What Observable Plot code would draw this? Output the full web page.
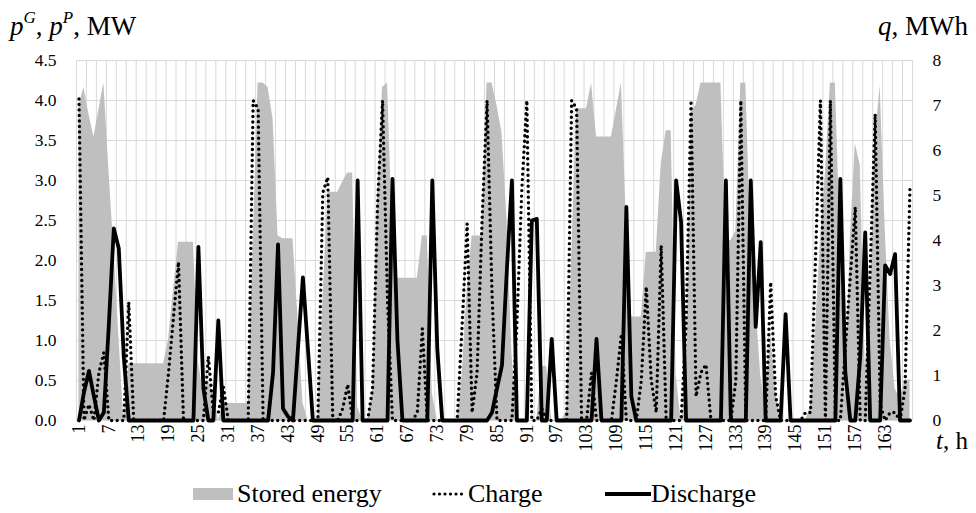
<!DOCTYPE html>
<html><head><meta charset="utf-8">
<script src="https://cdn.jsdelivr.net/npm/d3@7"></script>
<script src="https://cdn.jsdelivr.net/npm/@observablehq/plot@0.6"></script>
<style>
body{margin:0;background:#fff;font-family:"Liberation Serif","Times New Roman",serif;}
#wrap{position:relative;width:976px;height:513px;overflow:hidden;}
#legend{position:absolute;left:0;top:479px;width:976px;height:30px;font-size:26px;color:#000;}
#legend > div{position:absolute;top:0;height:30px;display:flex;align-items:center;white-space:nowrap;}
</style></head><body><div id="wrap"><div id="chart"></div>
<div id="legend">
 <div style="left:193px"><svg width="40" height="12"><rect width="40" height="12" fill="#bfbfbf"/></svg></div>
 <div style="left:237px">Stored energy</div>
 <div style="left:432px"><svg width="34" height="6"><line x1="2" y1="3" x2="32" y2="3" stroke="#000" stroke-width="3.2" stroke-dasharray="0,5.5" stroke-linecap="round"/></svg></div>
 <div style="left:468px">Charge</div>
 <div style="left:605px"><svg width="46" height="6"><line x1="0" y1="3" x2="46" y2="3" stroke="#000" stroke-width="3.8"/></svg></div>
 <div style="left:651px">Discharge</div>
</div></div>
<script>
const hours = d3.range(1, 169);
const stored = [
 7.0, 7.4, 6.8, 6.3, 6.9, 7.5, 5.6, 3.8, 1.9, 0, 1.26, 1.26,
 1.26, 1.26, 1.26, 1.26, 1.26, 1.26, 1.8, 2.9, 3.96, 3.96, 3.96, 3.96,
 1.3, 0.6, 0.9, 0.6, 0, 0.38, 0.38, 0.38, 0.38, 0.38, 0.38, 4.0,
 7.5, 7.5, 7.4, 6.7, 4.1, 4.04, 4.04, 4.04, 2.3, 0.4, 0, 0,
 0, 2.6, 5.07, 5.07, 5.07, 5.3, 5.5, 5.5, 0.3, 0, 0, 0.6,
 5.0, 7.4, 7.5, 4.2, 3.16, 3.16, 3.16, 3.16, 3.16, 4.1, 4.1, 0.6,
 0, 0, 0, 0, 0, 1.0, 2.9, 4.1, 4.1, 4.1, 7.5, 7.5,
 7.0, 6.4, 4.5, 1.5, 0, 0, 0, 0, 0, 1.2, 1.2, 0,
 0, 0, 0.2, 3.6, 6.93, 6.93, 6.93, 7.5, 6.3, 6.3, 6.3, 6.3,
 6.9, 7.5, 4.4, 2.3, 2.3, 2.3, 3.74, 3.74, 3.74, 5.7, 6.44, 6.44,
 1.0, 0, 0.5, 6.85, 7.0, 7.5, 7.5, 7.5, 7.5, 7.5, 4.0, 4.0,
 4.2, 7.5, 7.5, 4.0, 2.6, 1.0, 0.3, 1.96, 0.6, 0, 0, 0,
 0, 0, 0, 0.3, 2.0, 4.0, 5.5, 7.5, 7.5, 4.0, 0.5, 4.0,
 6.15, 5.67, 1.2, 2.5, 6.2, 7.44, 4.3, 1.8, 0.7, 0.5, 0.9, 0.9
];
const charge = [
 4.02, 0, 0.2, 0, 0.6, 0.85, 0, 0, 0, 0, 1.48, 0,
 0, 0, 0, 0, 0, 0, 0.6, 1.3, 1.98, 0, 0, 0,
 0, 0, 0.8, 0.1, 0.1, 0.43, 0, 0, 0, 0, 0, 4.0,
 3.9, 0, 0, 0, 0, 0, 0, 0, 0, 0, 0, 0,
 0, 2.85, 3.04, 0, 0, 0.15, 0.45, 0, 0, 0, 0, 0.4,
 2.7, 4.0, 1.5, 0, 0, 0, 0, 0, 0.1, 1.15, 0, 0,
 0, 0, 0, 0, 0, 1.2, 2.46, 0.1, 0.6, 2.5, 4.0, 1.6,
 0, 0, 0, 0, 1.2, 2.9, 4.0, 0, 0, 0.15, 0, 0,
 0, 0, 0, 4.0, 3.9, 0, 0, 0.6, 0, 0, 0, 0,
 0.5, 1.08, 0, 0, 0, 0.5, 1.67, 0.5, 0.1, 2.19, 0, 0,
 0, 0, 1.2, 4.0, 0.3, 0.6, 0.7, 0, 0, 0, 0, 0,
 0.5, 4.0, 0, 0, 0, 0, 0, 1.73, 0.3, 0, 0, 0,
 0, 0, 0.1, 0.1, 2.0, 4.0, 0, 4.0, 0, 0, 0.9, 1.8,
 2.67, 0, 0, 1.9, 3.83, 0.2, 0, 0.1, 0.1, 0, 0.4, 2.94
];
const discharge = [
 0, 0.35, 0.62, 0.3, 0, 0.1, 1.2, 2.4, 2.15, 0.8, 0, 0,
 0, 0, 0, 0, 0, 0, 0, 0, 0, 0, 0, 0,
 2.17, 0.4, 0, 0, 1.25, 0, 0, 0, 0, 0, 0, 0,
 0, 0, 0, 0.6, 2.2, 0.15, 0.05, 0, 0.9, 1.79, 0.9, 0,
 0, 0, 0, 0, 0, 0, 0, 0, 3.0, 0, 0, 0,
 0, 0, 0, 3.02, 1.0, 0, 0, 0, 0, 0, 0, 3.0,
 0.9, 0, 0, 0, 0, 0, 0, 0, 0, 0, 0, 0.1,
 0.4, 0.69, 1.9, 3.0, 0, 0, 0, 2.5, 2.52, 0, 0, 1.02,
 0, 0, 0, 0, 0, 0, 0, 0, 1.02, 0, 0, 0,
 0, 0, 2.67, 0.3, 0, 0, 0, 0, 0, 0, 0, 0,
 3.0, 2.48, 0, 0, 0, 0, 0, 0, 0, 0, 3.0, 0,
 0, 0, 0, 3.0, 1.17, 2.23, 0, 0, 0, 0, 1.33, 0,
 0, 0, 0, 0, 0, 0, 0, 0, 0, 3.02, 0.6, 0,
 0, 0.8, 2.35, 0, 0, 0, 1.94, 1.83, 2.08, 0, 0, 0
];
const mwTicks = [0, 0.5, 1, 1.5, 2, 2.5, 3, 3.5, 4, 4.5];
const mwhTicks = [0, 1, 2, 3, 4, 5, 6, 7, 8];
const hourTicks = [1, 7, 13, 19, 25, 31, 37, 43, 49, 55, 61, 67, 73, 79, 85, 91, 97, 103, 109, 115, 121, 127, 133, 139, 145, 151, 157, 163];
const P_MAX = 4.5, Q_MAX = 8;

const data = hours.map((h, i) => ({h, q: stored[i], c: charge[i], d: discharge[i]}));
const toMW = v => v * P_MAX / Q_MAX;

const plot = Plot.plot({
  width: 976, height: 470,
  marginLeft: 76, marginRight: 64, marginTop: 60, marginBottom: 50,
  x: {type: "linear", domain: [0.5, 168.5]},
  y: {domain: [0, P_MAX]},
  style: {fontFamily: "'Liberation Serif','Times New Roman',serif", fontSize: "17.5px", background: "white", color: "black", overflow: "visible"},
  marks: [
    Plot.gridY(mwTicks, {stroke: "#d9d9d9", strokeOpacity: 1}),
    Plot.gridX(d3.range(0.5, 169, 2), {stroke: "#d9d9d9", strokeOpacity: 1}),
    Plot.areaY(data, {x: "h", y: d => toMW(d.q), fill: "#bfbfbf"}),
    Plot.ruleY([0], {stroke: "#d9d9d9"}),
    Plot.lineY(data, {x: "h", y: "c", stroke: "black", strokeWidth: 3.4, strokeDasharray: "0,5.5", strokeLinecap: "round"}),
    Plot.lineY(data, {x: "h", y: "d", stroke: "black", strokeWidth: 3.8}),
    Plot.axisY(mwTicks, {anchor: "left", tickSize: 0, tickPadding: 20, tickFormat: d => d.toFixed(1), label: null}),
    Plot.axisY(mwhTicks.map(toMW), {anchor: "right", tickSize: 0, tickPadding: 20, tickFormat: d => String(Math.round(d * Q_MAX / P_MAX)), label: null}),
    Plot.axisX(hourTicks, {anchor: "bottom", tickSize: 0, tickPadding: 4, tickRotate: -90, label: null, fontSize: 18})
  ]
});
document.getElementById("chart").appendChild(plot);

const svg = d3.select(plot);
const t1 = svg.append("text").attr("x", 10).attr("y", 35).attr("text-anchor", "start").attr("font-size", 27).attr("fill", "black");
t1.append("tspan").attr("font-style", "italic").text("p");
t1.append("tspan").attr("dy", -12).attr("font-size", 17).attr("font-style", "italic").text("G");
t1.append("tspan").attr("dy", 12).text(", ");
t1.append("tspan").attr("font-style", "italic").text("p");
t1.append("tspan").attr("dy", -12).attr("font-size", 17).attr("font-style", "italic").text("P");
t1.append("tspan").attr("dy", 12).text(", MW");
const t2 = svg.append("text").attr("x", 968).attr("y", 35).attr("text-anchor", "end").attr("font-size", 27).attr("fill", "black");
t2.append("tspan").attr("font-style", "italic").text("q");
t2.append("tspan").text(", MWh");
const t3 = svg.append("text").attr("x", 968).attr("y", 449).attr("text-anchor", "end").attr("font-size", 25).attr("fill", "black");
t3.append("tspan").attr("font-style", "italic").text("t");
t3.append("tspan").text(", h");
</script></body></html>
